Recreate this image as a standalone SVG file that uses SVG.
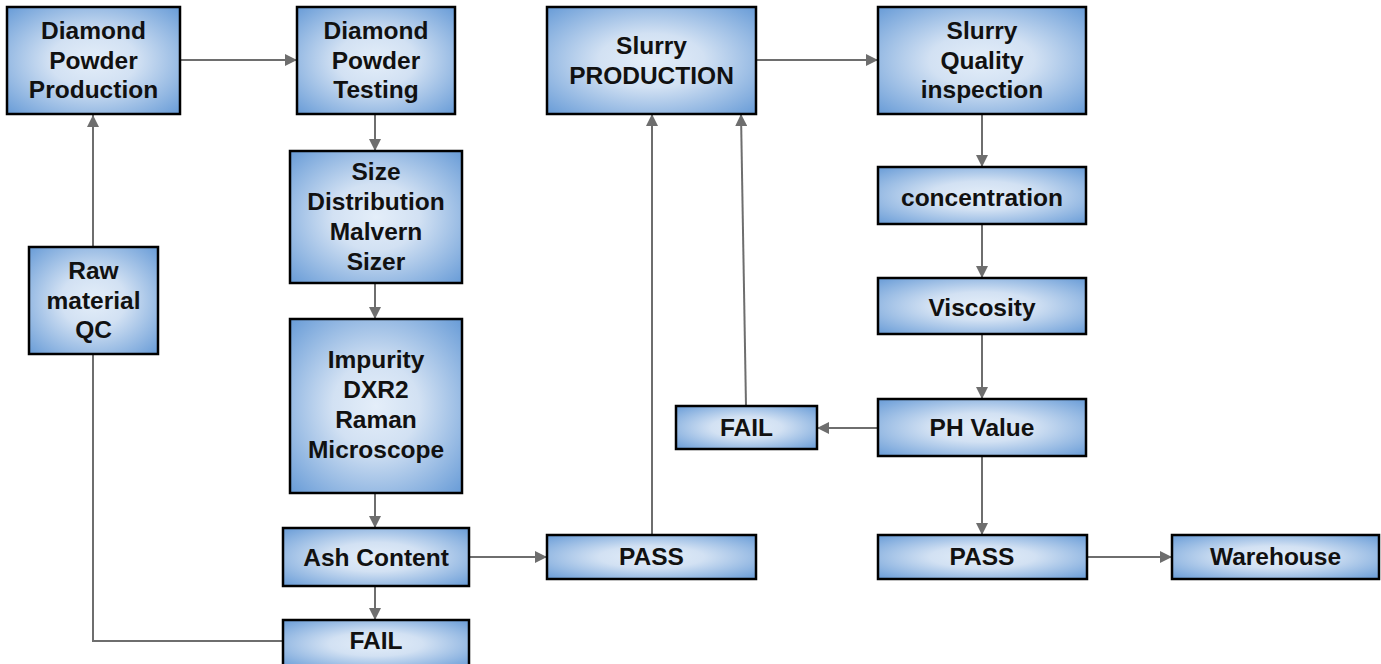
<svg xmlns="http://www.w3.org/2000/svg" width="1381" height="664" viewBox="0 0 1381 664">
<style>
.box{fill:url(#g);stroke:#000;stroke-width:2.5}
.t{font-family:"Liberation Sans",Arial,sans-serif;font-weight:bold;font-size:24.5px;fill:#111;text-anchor:middle}
.c{fill:none;stroke:#6e6e6e;stroke-width:2}
.a{marker-end:url(#ah)}
</style>
<defs>
<radialGradient id="g" cx="50%" cy="50%" r="72%">
<stop offset="0" stop-color="#e4eef9"/>
<stop offset="0.35" stop-color="#d2e1f3"/>
<stop offset="1" stop-color="#6499d6"/>
</radialGradient>
<marker id="ah" markerUnits="userSpaceOnUse" markerWidth="12" markerHeight="12" refX="11" refY="5.5" orient="auto" viewBox="0 0 11 11">
<path d="M0,0 L11,5.5 L0,11 z" fill="#6e6e6e"/>
</marker>
</defs>
<rect width="1381" height="664" fill="#fff"/>
<g id="connectors">
<line class="c a" x1="180" y1="60" x2="297" y2="60"/>
<line class="c a" x1="93" y1="247" x2="93" y2="115"/>
<polyline class="c" points="283,641 93,641 93,354"/>
<line class="c a" x1="375" y1="114" x2="375" y2="151"/>
<line class="c a" x1="375" y1="283" x2="375" y2="319"/>
<line class="c a" x1="375" y1="493" x2="375" y2="528"/>
<line class="c a" x1="375" y1="586" x2="375" y2="620"/>
<line class="c a" x1="469" y1="557" x2="547" y2="557"/>
<line class="c a" x1="652" y1="535" x2="652" y2="114"/>
<line class="c a" x1="746" y1="406" x2="741" y2="114"/>
<line class="c a" x1="756" y1="60" x2="878" y2="60"/>
<line class="c a" x1="982" y1="114" x2="982" y2="167"/>
<line class="c a" x1="982" y1="224" x2="982" y2="278"/>
<line class="c a" x1="982" y1="334" x2="982" y2="399"/>
<line class="c a" x1="878" y1="428" x2="817" y2="428"/>
<line class="c a" x1="982" y1="456" x2="982" y2="535"/>
<line class="c a" x1="1087" y1="557" x2="1172" y2="557"/>
</g>
<g id="n-dpp"><rect class="box" x="7" y="7" width="173" height="107"/>
<text class="t"><tspan x="93.5" y="39">Diamond</tspan><tspan x="93.5" y="68.5">Powder</tspan><tspan x="93.5" y="98">Production</tspan></text></g>
<g id="n-dpt"><rect class="box" x="297" y="7" width="158" height="107"/>
<text class="t"><tspan x="376" y="39">Diamond</tspan><tspan x="376" y="68.5">Powder</tspan><tspan x="376" y="98">Testing</tspan></text></g>
<g id="n-sp"><rect class="box" x="547" y="7" width="209" height="107"/>
<text class="t"><tspan x="651.5" y="54">Slurry</tspan><tspan x="651.5" y="83.5">PRODUCTION</tspan></text></g>
<g id="n-sqi"><rect class="box" x="878" y="7" width="208" height="107"/>
<text class="t"><tspan x="982" y="39">Slurry</tspan><tspan x="982" y="68.5">Quality</tspan><tspan x="982" y="98">inspection</tspan></text></g>
<g id="n-raw"><rect class="box" x="29" y="247" width="129" height="107"/>
<text class="t"><tspan x="93.5" y="279">Raw</tspan><tspan x="93.5" y="308.5">material</tspan><tspan x="93.5" y="338">QC</tspan></text></g>
<g id="n-size"><rect class="box" x="290" y="151" width="172" height="132"/>
<text class="t"><tspan x="376" y="180">Size</tspan><tspan x="376" y="210">Distribution</tspan><tspan x="376" y="240">Malvern</tspan><tspan x="376" y="270">Sizer</tspan></text></g>
<g id="n-imp"><rect class="box" x="290" y="319" width="172" height="174"/>
<text class="t"><tspan x="376" y="368">Impurity</tspan><tspan x="376" y="398">DXR2</tspan><tspan x="376" y="428">Raman</tspan><tspan x="376" y="458">Microscope</tspan></text></g>
<g id="n-ash"><rect class="box" x="283" y="528" width="186" height="58"/>
<text class="t" x="376" y="566">Ash Content</text></g>
<g id="n-fail1"><rect class="box" x="283" y="620" width="186" height="48"/>
<text class="t" x="376" y="649">FAIL</text></g>
<g id="n-pass1"><rect class="box" x="547" y="535" width="209" height="44"/>
<text class="t" x="651.5" y="565">PASS</text></g>
<g id="n-fail2"><rect class="box" x="676" y="406" width="141" height="43"/>
<text class="t" x="746.5" y="436">FAIL</text></g>
<g id="n-conc"><rect class="box" x="878" y="167" width="208" height="57"/>
<text class="t" x="982" y="206">concentration</text></g>
<g id="n-visc"><rect class="box" x="878" y="278" width="208" height="56"/>
<text class="t" x="982" y="316">Viscosity</text></g>
<g id="n-ph"><rect class="box" x="878" y="399" width="208" height="57"/>
<text class="t" x="982" y="436">PH Value</text></g>
<g id="n-pass2"><rect class="box" x="878" y="535" width="209" height="44"/>
<text class="t" x="982" y="565">PASS</text></g>
<g id="n-wh"><rect class="box" x="1172" y="535" width="207" height="44"/>
<text class="t" x="1275.5" y="565">Warehouse</text></g>
</svg>
